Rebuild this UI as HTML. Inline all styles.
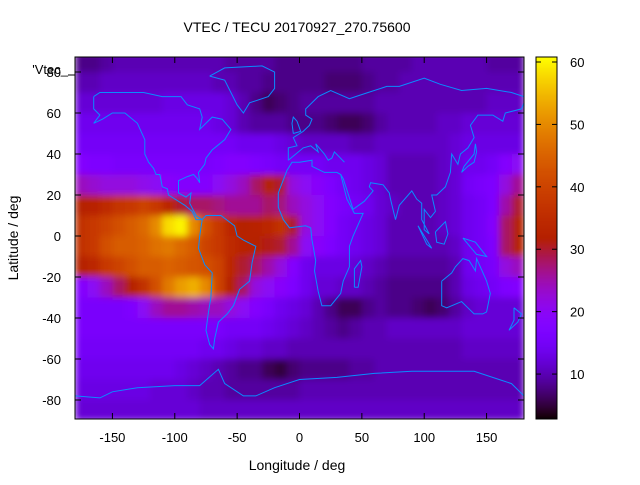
<!DOCTYPE html>
<html><head><meta charset="utf-8"><style>
body{margin:0;background:#fff;width:640px;height:480px;overflow:hidden}
svg text{font-family:"Liberation Sans",sans-serif;fill:#000}
</style></head><body>
<svg id="chart" width="640" height="480" viewBox="0 0 640 480" xmlns="http://www.w3.org/2000/svg">
<defs>
<clipPath id="plotclip"><rect x="75" y="57" width="449" height="362"/></clipPath>
<filter id="smooth" x="0" y="0" width="100%" height="100%"><feGaussianBlur stdDeviation="3.5" edgeMode="duplicate"/></filter>
</defs>
<rect width="640" height="480" fill="#fff"/>
<text x="297" y="32" font-size="14" text-anchor="middle">VTEC / TECU 20170927_270.75600</text>
<g clip-path="url(#plotclip)"><g id="cells" filter="url(#smooth)"></g><g id="coast" fill="none" stroke="#0a8cff" stroke-width="1"></g></g>
<rect x="75" y="57" width="449" height="362" fill="none" stroke="#000" stroke-width="1"/>
<g id="axes"></g>
<text x="297" y="470" font-size="14" text-anchor="middle">Longitude / deg</text>
<text x="18" y="238" font-size="14" text-anchor="middle" transform="rotate(-90 18 238)">Latitude / deg</text>
<text x="68" y="74" font-size="13" text-anchor="end">'Vtec_</text>
<g id="cbar"></g>
</svg>
<script>
const lonCenters=[-175,-165,-155,-145,-135,-125,-115,-105,-95,-85,-75,-65,-55,-45,-35,-25,-15,-5,5,15,25,35,45,55,65,75,85,95,105,115,125,135,145,155,165,175];
const latCenters=[85,75,65,55,45,35,25,15,5,-5,-15,-25,-35,-45,-55,-65,-75,-85];
const vtec=[
[8,8,9,10,10,10,10,10,10,10,10,10,9,9,9,9,8,8,8,8,8,8,8,9,9,9,9,10,10,10,10,10,10,9,9,9],
[10,10,11,11,11,11,11,11,11,11,11,10,10,9,9,8,8,8,8,8,7,7,7,8,9,9,10,10,10,10,10,10,10,10,10,10],
[12,12,12,12,12,12,12,13,13,13,13,13,12,10,8,6,7,8,9,9,9,9,9,9,10,10,10,10,10,10,10,10,10,11,11,11],
[14,14,14,14,14,14,14,14,14,14,14,13,12,10,9,9,9,8,8,8,7,6,6,7,9,10,10,10,10,11,11,12,12,12,12,12],
[15,15,15,15,15,15,15,15,15,15,15,15,15,14,14,14,13,12,11,11,11,11,10,10,11,11,11,11,11,11,12,13,13,13,13,13],
[18,17,17,16,16,16,16,16,16,16,16,17,18,18,17,16,15,15,15,15,14,14,14,13,12,10,10,10,10,11,12,14,14,15,18,20],
[24,23,22,22,22,21,20,19,18,18,18,20,22,24,28,32,30,22,20,19,17,15,14,13,12,10,10,10,10,11,12,15,16,17,22,26],
[32,33,35,37,38,40,38,34,30,28,28,27,26,26,26,28,27,24,22,20,18,16,15,14,12,11,10,10,10,11,12,14,15,17,25,30],
[36,38,40,42,44,46,50,58,60,50,42,38,34,32,33,34,36,30,22,20,18,15,14,13,12,10,10,10,10,11,12,14,15,18,28,32],
[36,38,42,44,44,45,47,48,46,44,40,38,35,33,32,31,30,26,20,19,17,15,14,13,12,10,10,10,10,10,11,14,15,17,28,32],
[32,34,38,40,42,44,44,45,44,43,42,40,34,30,28,25,22,18,14,13,13,13,12,11,10,9,9,9,9,9,10,14,15,16,22,24],
[18,20,24,28,32,36,42,48,52,54,50,40,32,28,22,20,19,17,14,12,12,11,11,10,9,8,8,8,8,8,10,13,14,15,17,18],
[16,16,16,16,17,20,24,26,26,25,24,24,22,20,18,16,14,13,12,10,8,6,6,8,9,8,8,7,6,7,9,11,12,12,12,12],
[16,16,16,16,16,16,16,16,16,16,16,16,15,15,15,14,13,12,11,10,9,8,9,10,10,11,11,11,11,11,11,12,12,12,12,12],
[15,15,15,15,15,15,15,15,15,15,14,14,13,12,12,11,11,10,10,10,10,10,10,10,10,10,10,10,10,10,10,11,11,11,11,11],
[14,14,14,14,14,14,14,14,13,12,11,10,9,8,8,6,5,7,8,8,8,8,9,9,10,10,10,10,10,10,10,10,10,10,10,10],
[13,13,13,13,13,13,12,12,12,11,10,10,9,9,9,9,9,9,10,10,10,10,10,10,10,10,10,10,10,10,10,10,10,10,10,10],
[12,12,12,12,12,12,12,12,12,12,11,11,11,11,11,11,11,11,11,11,11,11,11,11,11,11,11,11,11,11,11,11,11,11,11,11]
];
const xTicks=[-150,-100,-50,0,50,100,150];
const yTicks=[-80,-60,-40,-20,0,20,40,60,80];
const cbTicks=[10,20,30,40,50,60];
const cbMin=2.8, cbMax=60.8;
const NS='http://www.w3.org/2000/svg';
const xs=lon=>75+(lon+180)*449/360;
const ys=lat=>236-lat*2.05;
const cy=v=>419-(v-cbMin)/(cbMax-cbMin)*362;
function col(v){let t=Math.max(0,Math.min(1,(v-cbMin)/(cbMax-cbMin)));
 const r=Math.sqrt(t),g=t*t*t,b=Math.max(0,Math.sin(2*Math.PI*t));
 return `rgb(${Math.round(r*255)},${Math.round(g*255)},${Math.round(b*255)})`;}
function mk(tag,attrs,parent){const e=document.createElementNS(NS,tag);for(const k in attrs)e.setAttribute(k,attrs[k]);parent.appendChild(e);return e;}
const cells=document.getElementById('cells');
latCenters.forEach((lat,i)=>lonCenters.forEach((lon,j)=>{
 const r=mk('rect',{x:xs(lon-5),y:ys(lat+5),width:xs(lon+5)-xs(lon-5)+0.5,height:ys(lat-5)-ys(lat+5)+0.5,fill:col(vtec[i][j])},cells);
 
 
}));
const coasts={
'north-america':[[-165,68],[-160,70],[-140,70],[-125,70],[-110,68],[-95,68],[-90,64],[-80,62],[-78,58],[-80,52],[-70,58],[-62,57],[-55,52],[-60,47],[-66,44],[-70,42],[-75,38],[-76,35],[-81,31],[-80,26],[-82,28],[-85,30],[-90,29],[-97,27],[-97,21],[-91,19],[-87,21],[-88,16],[-83,10],[-78,8]],
'south-america':[[-78,8],[-75,10],[-63,10],[-52,5],[-50,0],[-45,-2],[-35,-5],[-38,-13],[-40,-22],[-48,-26],[-53,-34],[-58,-38],[-65,-42],[-68,-50],[-69,-55],[-72,-53],[-75,-46],[-73,-37],[-71,-30],[-70,-18],[-76,-14],[-81,-6],[-80,0],[-78,8],[-83,8],[-86,12],[-92,15],[-105,20],[-106,23],[-110,24],[-112,30],[-115,30],[-117,33],[-121,36],[-124,40],[-124,47],[-130,55],[-140,60],[-150,60],[-158,57],[-165,55],[-160,59],[-165,62],[-165,68]],
'greenland':[[-72,78],[-60,82],[-30,83],[-20,80],[-20,72],[-25,68],[-40,65],[-45,60],[-50,64],[-55,70],[-60,76],[-72,78]],
'africa':[[-17,21],[-17,14],[-13,8],[-8,4],[5,5],[9,4],[10,-2],[13,-12],[12,-17],[15,-27],[18,-34],[25,-34],[33,-28],[35,-22],[40,-15],[40,-5],[43,0],[51,11],[44,11],[38,18],[33,30],[30,31],[20,31],[10,34],[10,37],[0,36],[-6,36],[-10,32],[-17,21]],
'eurasia':[[-9,37],[-9,43],[-2,44],[-5,48],[3,51],[8,54],[10,57],[5,59],[5,62],[15,68],[25,71],[40,67],[45,68],[55,70],[70,73],[80,73],[100,77],[113,74],[130,71],[150,72],[170,70],[180,68]],
'asia-east':[[180,65],[178,62],[165,60],[163,56],[155,59],[143,59],[137,54],[140,48],[135,43],[129,40],[127,35],[122,40],[121,31],[117,24],[110,20],[106,20],[109,12],[105,9],[100,13],[100,3],[104,1],[98,8],[98,16],[94,18],[90,22],[80,15],[77,8],[73,18],[72,21],[67,25],[57,26],[56,24],[59,22],[52,17],[43,13],[35,28],[33,30]],
'mediterranean':[[36,36],[28,41],[26,38],[23,37],[20,40],[13,45],[15,41],[9,44],[3,43],[-9,37]],
'madagascar':[[44,-25],[47,-25],[50,-15],[49,-12],[44,-16],[44,-25]],
'japan':[[130,31],[135,34],[140,36],[142,41],[141,45],[140,40],[132,34],[130,31]],
'british-isles':[[-5,50],[1,51],[-2,56],[-5,58],[-6,55],[-5,50]],
'sumatra':[[95,5],[106,-6],[102,-4],[95,5]],
'borneo':[[109,2],[117,7],[119,1],[116,-4],[110,-3],[109,2]],
'new-guinea':[[131,-1],[141,-3],[150,-10],[142,-9],[131,-1]],
'australia':[[114,-22],[114,-34],[118,-35],[130,-32],[135,-35],[140,-38],[147,-38],[150,-37],[153,-28],[150,-22],[145,-15],[142,-11],[141,-17],[136,-12],[131,-11],[125,-15],[122,-18],[114,-22]],
'new-zealand':[[172,-35],[178,-38],[175,-42],[168,-46],[172,-41],[172,-35]],
'antarctica':[[-180,-78],[-160,-79],[-150,-76],[-130,-74],[-100,-73],[-80,-73],[-65,-65],[-60,-72],[-45,-78],[-35,-78],[-20,-74],[0,-70],[30,-69],[60,-67],[90,-66],[120,-66],[140,-66],[160,-70],[170,-72],[180,-78]]
};
const coast=document.getElementById('coast');
for(const k in coasts){const p=mk('polyline',{points:coasts[k].map(q=>xs(q[0]).toFixed(1)+','+ys(q[1]).toFixed(1)).join(' ')},coast);
 
 }
const axes=document.getElementById('axes');
xTicks.forEach(v=>{const x=xs(v);
 mk('line',{x1:x,y1:419,x2:x,y2:413,stroke:'#000'},axes);mk('line',{x1:x,y1:57,x2:x,y2:63,stroke:'#000'},axes);
 const t=mk('text',{x:x,y:442,'font-size':13,'text-anchor':'middle'},axes);t.textContent=v;
 
 });
yTicks.forEach(v=>{const y=ys(v);
 mk('line',{x1:75,y1:y,x2:81,y2:y,stroke:'#000'},axes);mk('line',{x1:524,y1:y,x2:518,y2:y,stroke:'#000'},axes);
 const t=mk('text',{x:61,y:y+5,'font-size':13,'text-anchor':'end'},axes);t.textContent=v;
 
 });
const lk=mk('line',{x1:68,y1:75,x2:75,y2:75,stroke:'#000'},axes);


const cb=document.getElementById('cbar');
for(let i=0;i<362;i++){const v=cbMin+(i+0.5)/362*(cbMax-cbMin);mk('rect',{x:536,y:418-i,width:21,height:1.2,fill:col(v)},cb);}
mk('rect',{x:536,y:57,width:21,height:362,fill:'none',stroke:'#000'},cb);
cbTicks.forEach(v=>{const y=cy(v);
 mk('line',{x1:536,y1:y,x2:541,y2:y,stroke:'#000'},cb);mk('line',{x1:557,y1:y,x2:552,y2:y,stroke:'#000'},cb);
 const t=mk('text',{x:570,y:y+5,'font-size':13},cb);t.textContent=v;
 
 });
</script>
</body></html>
